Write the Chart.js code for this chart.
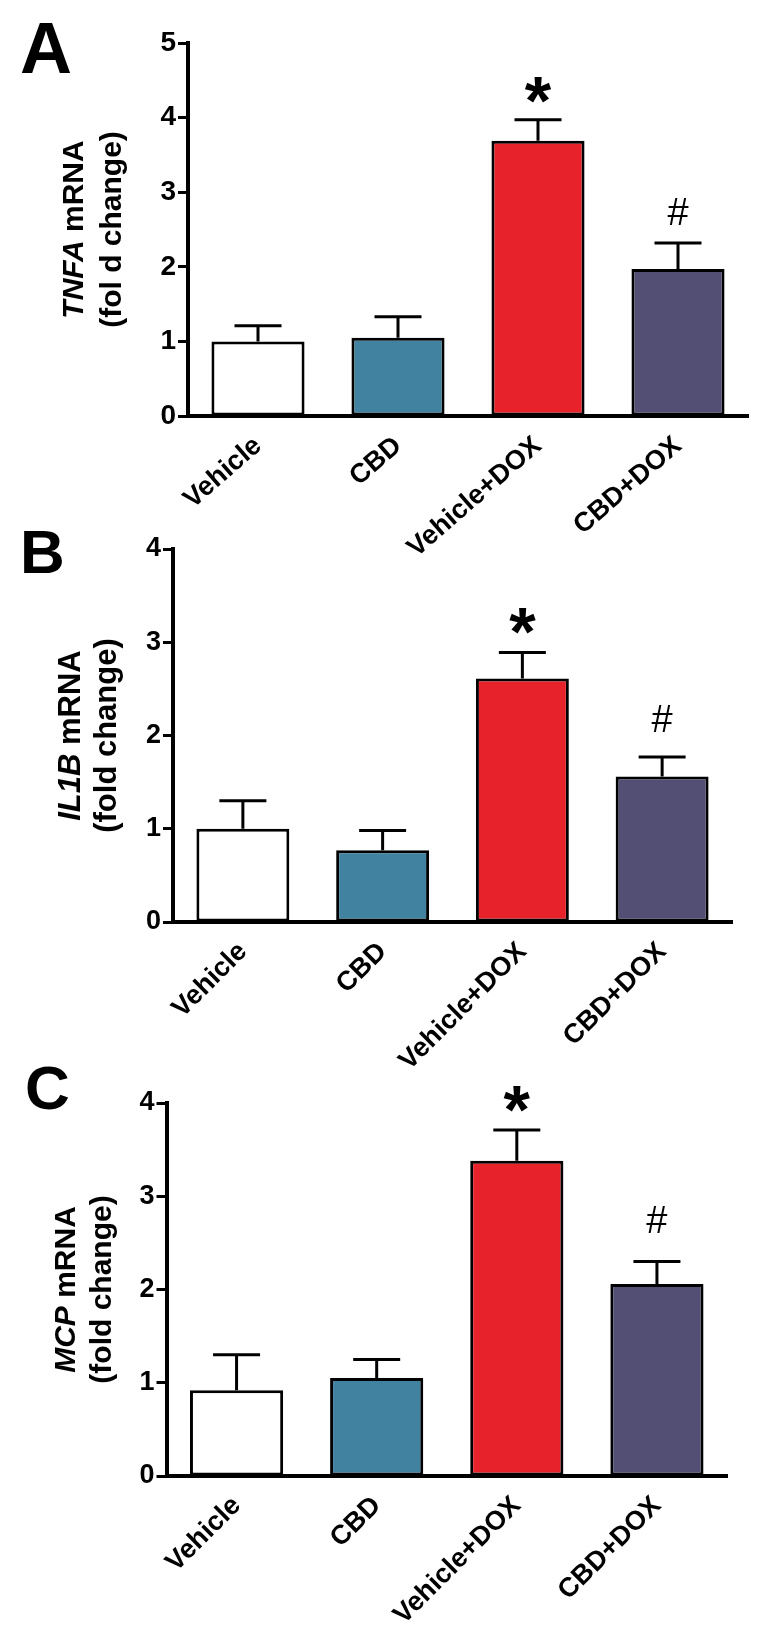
<!DOCTYPE html>
<html>
<head>
<meta charset="utf-8">
<script src="https://cdn.jsdelivr.net/npm/chart.js@4.4.1/dist/chart.umd.min.js"></script>
<style>
html,body{margin:0;padding:0;background:#ffffff;}
body{width:768px;height:1649px;position:relative;overflow:hidden;}
canvas{position:absolute;left:0;display:block;}
</style>
</head>
<body>
<canvas id="cA"></canvas>
<canvas id="cB"></canvas>
<canvas id="cC"></canvas>
<script>
// ---------------- DATA ----------------
const categories = ['Vehicle', 'CBD', 'Vehicle+DOX', 'CBD+DOX'];
const significance = ['', '', '*', '#'];

const tnfaMean = [1.00, 1.05, 3.69, 1.97];
const tnfaSem  = [0.21, 0.28, 0.28, 0.35];
const tnfaTicks = [0, 1, 2, 3, 4, 5];

const il1bMean = [1.00, 0.77, 2.61, 1.56];
const il1bSem  = [0.30, 0.21, 0.28, 0.21];
const il1bTicks = [0, 1, 2, 3, 4];

const mcpMean = [0.92, 1.05, 3.38, 2.06];
const mcpSem  = [0.38, 0.20, 0.33, 0.24];
const mcpTicks = [0, 1, 2, 3, 4];

const geneNames = ['TNFA', 'IL1B', 'MCP'];
const yTitleRest = [' mRNA', ' mRNA', ' mRNA'];
const yTitleLine2 = ['(fol d change)', '(fold change)', '(fold change)'];
const panelLetters = ['A', 'B', 'C'];

const barColors = ['#FFFFFF', '#4282A1', '#E8222A', '#524E74'];

// ---------------- LAYOUT / STYLE ----------------
const FONT = '"Liberation Sans", Arial, Helvetica, sans-serif';
const layouts = [
  {id:'cA', top:0,    height:580, yLeft:188,   plotTop:43,   plotBottom:416,  plotRight:748,
   letterSize:72, letterX:20, letterBase:73,   titleSize:30, base1:82.5, base2:121, tickSize:28,
   starGap:30, hashGap:31, labelSize:27, rot:41, labelPad:14},
  {id:'cB', top:500,  height:620, yLeft:173,   plotTop:549,  plotBottom:922,  plotRight:732,
   letterSize:62, letterX:20, letterBase:573,  titleSize:31, base1:80, base2:116, tickSize:27,
   starGap:32, hashGap:38, labelSize:27, rot:45, labelPad:14},
  {id:'cC', top:1040, height:609, yLeft:166.5, plotTop:1103, plotBottom:1476, plotRight:727,
   letterSize:62, letterX:25, letterBase:1109, titleSize:30, base1:75, base2:111, tickSize:27,
   starGap:31, hashGap:42, labelSize:27, rot:45, labelPad:14}
];

const series = [
  {mean:tnfaMean, sem:tnfaSem, ticks:tnfaTicks},
  {mean:il1bMean, sem:il1bSem, ticks:il1bTicks},
  {mean:mcpMean,  sem:mcpSem,  ticks:mcpTicks}
];

function makeChart(k) {
  const L = layouts[k], S = series[k];
  const canvas = document.getElementById(L.id);
  canvas.width = 768; canvas.height = L.height;
  canvas.style.top = L.top + 'px';
  canvas.style.width = '768px'; canvas.style.height = L.height + 'px';
  const localTop = L.plotTop - L.top;
  const localBottom = L.plotBottom - L.top;

  const decor = {
    id: 'decor' + k,
    afterDatasetsDraw(chart) {
      const ctx = chart.ctx, y = chart.scales.y;
      const meta = chart.getDatasetMeta(0);
      ctx.save();
      ctx.strokeStyle = '#000'; ctx.lineWidth = 3; ctx.lineCap = 'butt';
      meta.data.forEach((bar, i) => {
        const yv = y.getPixelForValue(S.mean[i]);
        const ye = y.getPixelForValue(S.mean[i] + S.sem[i]);
        ctx.beginPath();
        ctx.moveTo(bar.x, yv); ctx.lineTo(bar.x, ye);
        ctx.moveTo(bar.x - 23.5, ye); ctx.lineTo(bar.x + 23.5, ye);
        ctx.stroke();
        const s = significance[i];
        if (s) {
          const isStar = s === '*';
          ctx.font = (isStar ? 'bold 68px ' : 'normal 38px ') + FONT;
          ctx.fillStyle = '#000';
          ctx.textAlign = 'center'; ctx.textBaseline = 'alphabetic';
          const m = ctx.measureText(s);
          const cy = ye - (isStar ? L.starGap : L.hashGap);
          const base = cy + (m.actualBoundingBoxAscent - m.actualBoundingBoxDescent) / 2;
          ctx.fillText(s, bar.x, base);
        }
      });
      ctx.restore();
    },
    afterDraw(chart) {
      const ctx = chart.ctx, y = chart.scales.y;
      ctx.save();
      ctx.fillStyle = '#000';
      ctx.font = 'bold ' + L.letterSize + 'px ' + FONT;
      ctx.textAlign = 'left'; ctx.textBaseline = 'alphabetic';
      ctx.fillText(panelLetters[k], L.letterX, L.letterBase - L.top);
      const cy = (y.top + y.bottom) / 2;
      const fItal = 'italic bold ' + L.titleSize + 'px ' + FONT;
      const fBold = 'bold ' + L.titleSize + 'px ' + FONT;
      ctx.font = fItal; const w1 = ctx.measureText(geneNames[k]).width;
      ctx.font = fBold; const w2 = ctx.measureText(yTitleRest[k]).width;
      const w3 = ctx.measureText(yTitleLine2[k]).width;
      ctx.save();
      ctx.translate(L.base1, cy); ctx.rotate(-Math.PI / 2);
      ctx.textAlign = 'left';
      const start = -(w1 + w2) / 2;
      ctx.font = fItal; ctx.fillText(geneNames[k], start, 0);
      ctx.font = fBold; ctx.fillText(yTitleRest[k], start + w1, 0);
      ctx.restore();
      ctx.save();
      ctx.translate(L.base2, cy); ctx.rotate(-Math.PI / 2);
      ctx.textAlign = 'left'; ctx.font = fBold;
      ctx.fillText(yTitleLine2[k], -w3 / 2, 0);
      ctx.restore();
      ctx.restore();
    }
  };

  return new Chart(canvas, {
    type: 'bar',
    data: {
      labels: categories,
      datasets: [{
        data: S.mean,
        backgroundColor: barColors,
        borderColor: '#000',
        borderWidth: 3,
        borderSkipped: false,
        barPercentage: 0.665,
        categoryPercentage: 1.0
      }]
    },
    options: {
      responsive: false,
      animation: false,
      devicePixelRatio: 1,
      layout: { padding: { left: 0, right: 768 - L.plotRight, top: localTop, bottom: 0 } },
      plugins: { legend: { display: false }, tooltip: { enabled: false }, title: { display: false } },
      scales: {
        x: {
          type: 'category',
          offset: true,
          grid: { display: false, drawTicks: false },
          border: { display: true, color: '#000', width: 4 },
          ticks: {
            color: '#000',
            font: { family: FONT, size: L.labelSize, weight: 'bold' },
            maxRotation: L.rot, minRotation: L.rot,
            autoSkip: false,
            padding: L.labelPad
          },
          afterFit(scale) { scale.height = L.height - localBottom; }
        },
        y: {
          min: S.ticks[0],
          max: S.ticks[S.ticks.length - 1],
          afterBuildTicks(scale) { scale.ticks = S.ticks.map(v => ({ value: v })); },
          grid: { display: true, drawOnChartArea: false, drawTicks: true, tickLength: 10,
                  tickWidth: 3, tickColor: '#000', color: '#000' },
          border: { display: true, color: '#000', width: 4 },
          ticks: {
            color: '#000',
            font: { family: FONT, size: L.tickSize, weight: 'bold' },
            padding: 2
          },
          afterFit(scale) { scale.width = L.yLeft; }
        }
      }
    },
    plugins: [decor]
  });
}

[0, 1, 2].forEach(makeChart);
</script>
</body>
</html>
